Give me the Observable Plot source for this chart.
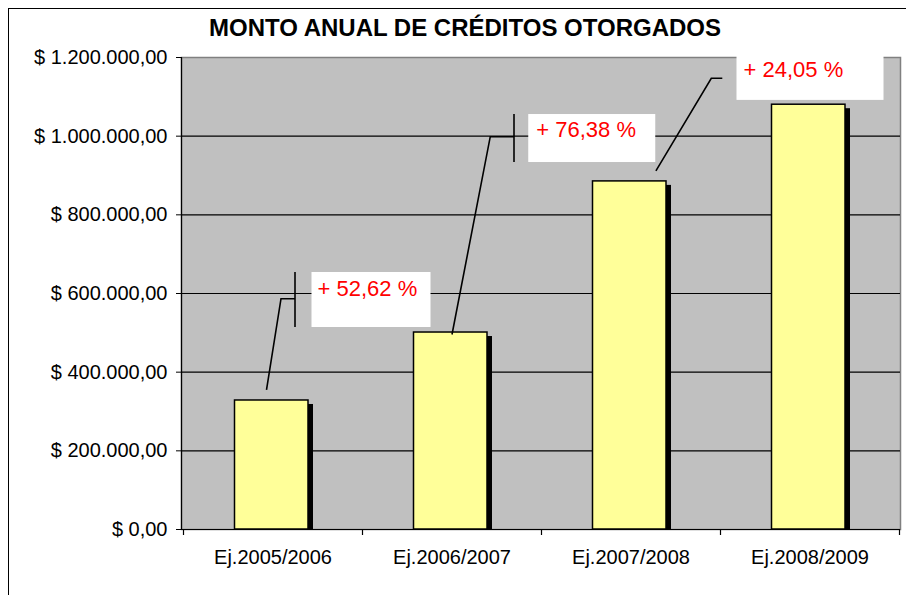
<!DOCTYPE html>
<html>
<head>
<meta charset="utf-8">
<script src="https://cdn.jsdelivr.net/npm/d3@7"></script>
<script src="https://cdn.jsdelivr.net/npm/@observablehq/plot@0.6"></script>
<style>
  body { margin: 0; background: #fff; }
  #wrap { position: relative; width: 906px; height: 595px; overflow: hidden; font-family: "Liberation Sans", Arial, sans-serif; }
  #border { position: absolute; left: 8px; top: 8px; width: 1200px; height: 1200px; border: 1.5px solid #000; box-sizing: border-box; }
  #title { position: absolute; left: 0; width: 930px; top: 16px; text-align: center; font-weight: bold; font-size: 24px; line-height: 24px; color: #000; }
  #chart { position: absolute; left: 0; top: 0; }
</style>
</head>
<body>
<div id="wrap">
  <div id="border"></div>
  <div id="chart"></div>
  <div id="title">MONTO ANUAL DE CRÉDITOS OTORGADOS</div>
</div>
<script>
// ---- data ----
const categories = ["Ej.2005/2006", "Ej.2006/2007", "Ej.2007/2008", "Ej.2008/2009"];
const amounts = [328000, 500800, 885000, 1080000];
const growthLabels = ["+ 52,62 %", "+ 76,38 %", "+ 24,05 %"];
const yTicks = [0, 200000, 400000, 600000, 800000, 1000000, 1200000];

const rows = categories.map((c, i) => ({ cat: c, amount: amounts[i] }));

const locale = d3.formatLocale({ decimal: ",", thousands: ".", grouping: [3], currency: ["$ ", ""] });
const fmt = locale.format("$,.2f");

const W = 906, H = 595;
const mL = 181, mR = 6, mT = 57, mB = 66;

// callout geometry (offsets from bar center / bar top, in px)
const calloutGeom = [
  { start: [-6, -10], elbow: [8.5, -101.3], hEnd: 22.5, box: [39, 158, -128, -73], text: [45, -104], tick: true },
  { start: [0.5, 2.5], elbow: [38.75, -195.3], hEnd: 62.5, box: [76.75, 203.75, -218, -170], text: [84.75, -195.3], tick: true },
  { start: [25.4, -10], elbow: [80.8, -102.6], hEnd: 91.8, box: [106, 253, -135, -81], text: [113, -104], tick: false }
];

function callouts(index, scales, values, dims) {
  const x = scales.x, y = scales.y;
  const bw = typeof x.bandwidth === "function" ? x.bandwidth() : (dims.width - dims.marginLeft - dims.marginRight) / categories.length;
  const g = d3.create("svg:g");
  growthLabels.forEach((lab, i) => {
    const geo = calloutGeom[i];
    const xc = x(categories[i]) + bw / 2;
    const yt = y(amounts[i]);
    g.append("rect")
      .attr("x", xc + geo.box[0]).attr("width", geo.box[1] - geo.box[0])
      .attr("y", yt + geo.box[2]).attr("height", geo.box[3] - geo.box[2])
      .attr("fill", "#fff");
    g.append("path")
      .attr("d", `M${xc + geo.start[0]},${yt + geo.start[1]}L${xc + geo.elbow[0]},${yt + geo.elbow[1]}L${xc + geo.hEnd},${yt + geo.elbow[1]}`)
      .attr("fill", "none").attr("stroke", "#000").attr("stroke-width", 1.6);
    if (geo.tick) {
      g.append("line")
        .attr("x1", xc + geo.hEnd).attr("x2", xc + geo.hEnd)
        .attr("y1", yt + geo.box[2]).attr("y2", yt + geo.box[3])
        .attr("stroke", "#000").attr("stroke-width", 1.6);
    }
    g.append("text")
      .attr("x", xc + geo.text[0]).attr("y", yt + geo.text[1])
      .attr("text-anchor", "start")
      .attr("fill", "#ff0000")
      .attr("font-family", "Liberation Sans, Arial, sans-serif")
      .attr("font-size", 22)
      .text(lab);
  });
  return g.node();
}

function axisFrame(index, scales, values, dims) {
  const x = scales.x;
  const bw = typeof x.bandwidth === "function" ? x.bandwidth() : (dims.width - dims.marginLeft - dims.marginRight) / categories.length;
  const y0 = dims.height - dims.marginBottom;
  const g = d3.create("svg:g").attr("stroke", "#000").attr("stroke-width", 1.2);
  g.append("line").attr("x1", dims.marginLeft + 0.5).attr("x2", dims.marginLeft + 0.5)
    .attr("y1", dims.marginTop).attr("y2", y0);
  g.append("line").attr("x1", dims.marginLeft).attr("x2", dims.width - dims.marginRight)
    .attr("y1", y0 + 0.5).attr("y2", y0 + 0.5);
  const bounds = categories.map(c => x(c)).concat([x(categories[categories.length - 1]) + bw]);
  bounds.forEach(b => {
    g.append("line").attr("x1", b + 0.5).attr("x2", b + 0.5).attr("y1", y0).attr("y2", y0 + 6);
  });
  return g.node();
}

const chart = Plot.plot({
  width: W, height: H,
  marginLeft: mL, marginRight: mR, marginTop: mT, marginBottom: mB,
  style: { fontFamily: "Liberation Sans, Arial, sans-serif", background: "transparent", color: "#000" },
  x: { type: "band", domain: categories, padding: 0, label: null },
  y: { domain: [0, 1200000], label: null },
  marks: [
    Plot.frame({ fill: "#c0c0c0", stroke: "#808080", strokeWidth: 1.5 }),
    Plot.ruleY(yTicks.filter(t => t > 0 && t < 1200000), { stroke: "#000", strokeWidth: 1.1 }),
    Plot.barY(rows, { x: "cat", y: "amount", fill: "#000", dx: 5, dy: 4, insetLeft: 51.5, insetRight: 54, clip: true }),
    Plot.barY(rows, { x: "cat", y: "amount", fill: "#ffff99", stroke: "#000", strokeWidth: 1.5, insetLeft: 51.5, insetRight: 54 }),
    axisFrame,
    Plot.axisY({ ticks: yTicks, tickFormat: fmt, tickSize: 5, tickPadding: 9, fontSize: 20, label: null, stroke: "#000", fill: "#000" }),
    Plot.axisX({ tickSize: 0, tickPadding: 20, fontSize: 20, label: null, fill: "#000" }),
    callouts
  ]
});
document.getElementById("chart").appendChild(chart);
</script>
</body>
</html>
